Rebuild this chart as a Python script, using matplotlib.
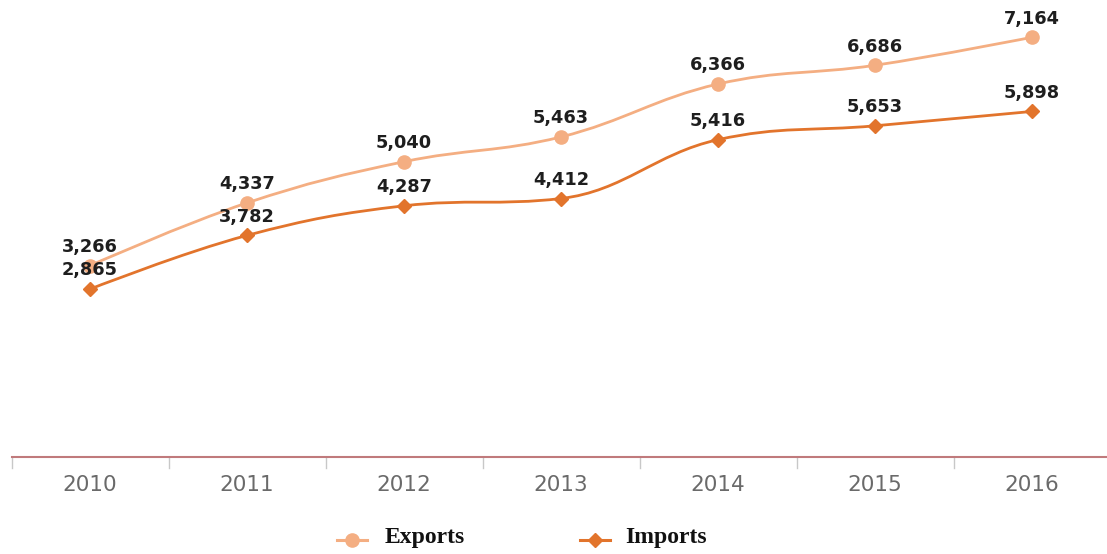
import numpy as np
import matplotlib.pyplot as plt
from matplotlib.path import Path
from matplotlib.patches import PathPatch
from matplotlib.lines import Line2D

# dados
anos = ["2010", "2011", "2012", "2013", "2014", "2015", "2016"]
exportacoes = [3266, 4337, 5040, 5463, 6366, 6686, 7164]
importacoes = [2865, 3782, 4287, 4412, 5416, 5653, 5898]

COR_EXP = "#F4AE82"
COR_IMP = "#E2742C"


def caminho_spline(x, y, suav=1.5):
    """Curva suave estilo 'spline' (controles de Bezier) passando pelos pontos."""
    n = len(x)
    lc = [(x[i], y[i]) for i in range(n)]
    rc = [(x[i], y[i]) for i in range(n)]
    den = suav + 1
    for i in range(1, n - 1):
        lcx = (suav * x[i] + x[i - 1]) / den
        lcy = (suav * y[i] + y[i - 1]) / den
        rcx = (suav * x[i] + x[i + 1]) / den
        rcy = (suav * y[i] + y[i + 1]) / den
        corr = ((rcy - lcy) * (rcx - x[i])) / (rcx - lcx) + y[i] - rcy
        lcy += corr
        rcy += corr
        # evita extremos falsos
        if lcy > y[i - 1] and lcy > y[i]:
            lcy = max(y[i - 1], y[i])
            rcy = 2 * y[i] - lcy
        elif lcy < y[i - 1] and lcy < y[i]:
            lcy = min(y[i - 1], y[i])
            rcy = 2 * y[i] - lcy
        if rcy > y[i + 1] and rcy > y[i]:
            rcy = max(y[i + 1], y[i])
            lcy = 2 * y[i] - rcy
        elif rcy < y[i + 1] and rcy < y[i]:
            rcy = min(y[i + 1], y[i])
            lcy = 2 * y[i] - rcy
        lc[i] = (lcx, lcy)
        rc[i] = (rcx, rcy)
    verts = [(x[0], y[0])]
    codes = [Path.MOVETO]
    for i in range(1, n):
        verts += [rc[i - 1], lc[i], (x[i], y[i])]
        codes += [Path.CURVE4] * 3
    return Path(verts, codes)


fig = plt.figure(figsize=(11.07, 5.54), dpi=100)
ax = fig.add_axes([11.5 / 1107, 1 - 457 / 554, 1099 / 1107, 457 / 554])
ax.set_xlim(-0.5, 6.5)
ax.set_ylim(0, 7800)

xs = np.arange(len(anos))
series = [(exportacoes, COR_EXP, "o", 9.5), (importacoes, COR_IMP, "D", 7)]
for vals, cor, mk, ms in series:
    ax.add_patch(PathPatch(caminho_spline(list(xs), vals), fill=False,
                           edgecolor=cor, lw=2.0, zorder=2))
    ax.plot(xs, vals, ls="none", marker=mk, ms=ms, color=cor, zorder=3)
    for xi, v in zip(xs, vals):
        ax.annotate(f"{v:,}", (xi, v), xytext=(0, 13.5), textcoords="offset points",
                    ha="center", va="center", fontsize=12.8, fontweight="bold",
                    family="DejaVu Sans", color="#1e1e1e", zorder=4)

# eixo x
for s in ["top", "right", "left"]:
    ax.spines[s].set_visible(False)
ax.spines["bottom"].set_color("#C07A7C")
ax.spines["bottom"].set_linewidth(1.5)
ax.set_yticks([])
ax.set_xticks(xs)
ax.set_xticklabels(anos, fontsize=15.5, color="#6a6a6a", family="DejaVu Sans")
ax.tick_params(axis="x", length=0, pad=13)
for b in np.arange(-0.5, 7, 1):
    ax.plot([b, b], [0, -180], color="#C8C8C8", lw=1, clip_on=False)

# legenda (posicionada manualmente)
ly = 1 - 540 / 554
for (vals, cor, mk, ms), cx, tx, nome in zip(series, [352, 595], [385, 625],
                                             ["Exports", "Imports"]):
    fig.add_artist(Line2D([(cx - 15) / 1107, (cx + 15) / 1107], [ly, ly],
                          color=cor, lw=2.2, transform=fig.transFigure))
    fig.add_artist(Line2D([cx / 1107], [ly], color=cor, marker=mk, ms=ms,
                          ls="none", transform=fig.transFigure))
    fig.text(tx / 1107, ly + 2 / 554, nome, ha="left", va="center",
             family="Liberation Serif", fontweight="bold", fontsize=17,
             color="#111111")

fig.savefig("out.png", dpi=100)
